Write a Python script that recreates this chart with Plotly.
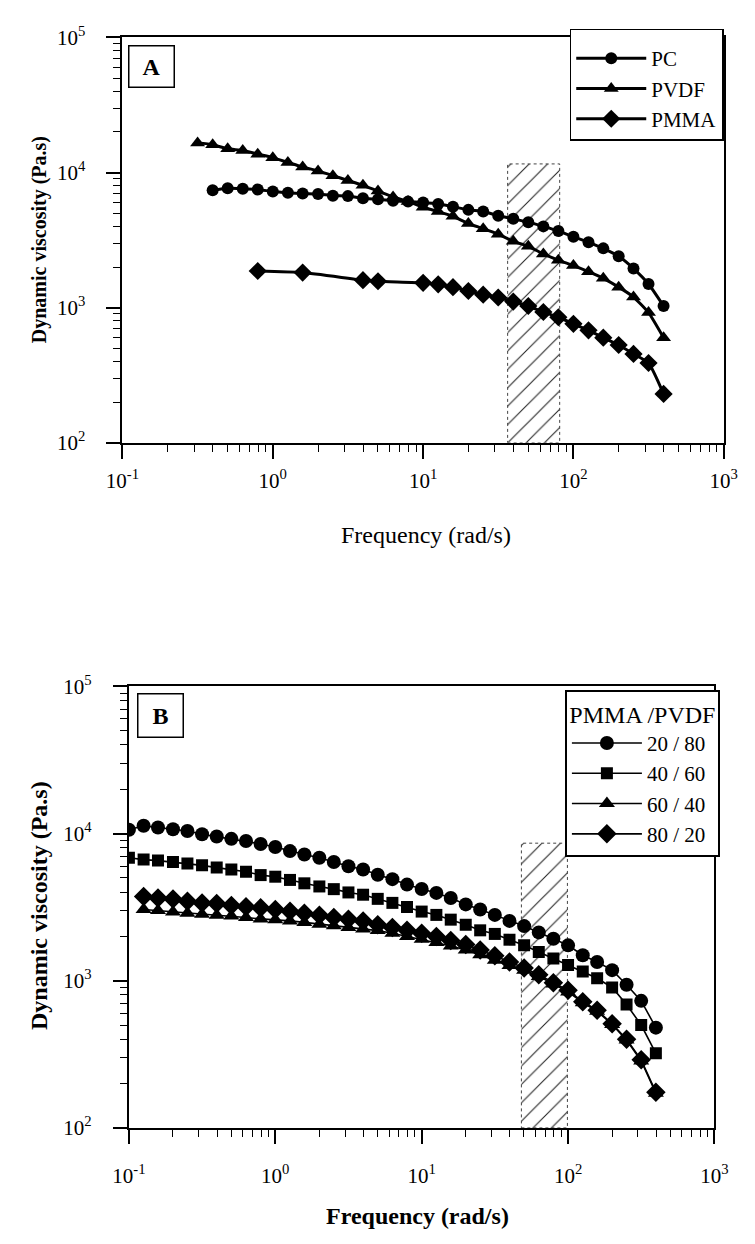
import plotly.graph_objects as go

# ---------------- data ----------------
FREQ_ALL = [0.1, 0.126, 0.158, 0.2, 0.251, 0.316, 0.398, 0.501, 0.631, 0.794,
            1.0, 1.26, 1.58, 2.0, 2.51, 3.16, 3.98, 5.01, 6.31, 7.94,
            10, 12.6, 15.8, 20, 25.1, 31.6, 39.8, 50.1, 63.1, 79.4,
            100, 126, 158, 200, 251, 316, 398]

# Panel A
A_PC_FREQ = FREQ_ALL[6:]
A_PC = [7400, 7650, 7600, 7500, 7250, 7100, 7000, 6950, 6750, 6700,
        6450, 6350, 6200, 6100, 6000, 5850, 5600, 5300, 5150, 4800,
        4550, 4300, 4000, 3700, 3350, 3050, 2750, 2400, 1950, 1500, 1030]
A_PVDF_FREQ = FREQ_ALL[5:]
A_PVDF = [16600, 16100, 15000, 14600, 13700, 12900, 11900, 11000, 10300, 9500,
          8750, 8050, 7300, 6600, 6100, 5550, 5150, 4750, 4200, 3850,
          3500, 3100, 2850, 2500, 2250, 2050, 1850, 1650, 1420, 1200, 920, 600]
A_PMMA_FREQ = [0.794, 1.58, 3.98, 5.01, 10, 12.6, 15.8, 20, 25.1, 31.6, 39.8,
               50.1, 63.1, 79.4, 100, 126, 158, 200, 251, 316, 398]
A_PMMA = [1870, 1820, 1600, 1570, 1530, 1490, 1420, 1330, 1250, 1190, 1110,
          1030, 930, 850, 760, 680, 600, 530, 455, 390, 230]

# Panel B
B_2080_FREQ = FREQ_ALL
B_2080 = [10600, 11300, 11000, 10700, 10400, 9900, 9550, 9200, 8900, 8500, 8100,
          7600, 7200, 6850, 6400, 6000, 5700, 5250, 4900, 4500, 4200,
          3950, 3650, 3300, 3050, 2800, 2550, 2350, 2130, 1930, 1740,
          1490, 1340, 1180, 940, 730, 480]
B_4060_FREQ = FREQ_ALL
B_4060 = [6850, 6650, 6550, 6400, 6250, 6080, 5870, 5700, 5500, 5220, 5090,
          4840, 4590, 4370, 4190, 3980, 3840, 3600, 3380, 3170, 2950,
          2800, 2600, 2400, 2200, 2080, 1900, 1740, 1570, 1415, 1280,
          1155, 1040, 900, 690, 500, 321]
B_6040_FREQ = FREQ_ALL[1:]
B_6040 = [3050, 3000, 2930, 2870, 2830, 2790, 2750, 2690, 2630, 2600,
          2550, 2490, 2420, 2360, 2300, 2250, 2190, 2100, 2000, 1910,
          1820, 1720, 1620, 1500, 1380, 1270, 1180, 1070, 950, 840,
          710, 620, 505, 395, 285, 172]
B_8020_FREQ = FREQ_ALL[1:]
B_8020 = [3740, 3650, 3590, 3470, 3380, 3345, 3250, 3180, 3130, 3050,
          2970, 2870, 2790, 2690, 2620, 2550, 2400, 2300, 2200, 2100,
          2000, 1880, 1760, 1620, 1480, 1340, 1220, 1100, 970, 860,
          720, 630, 510, 400, 290, 175]

# hatched frequency windows
HATCH_A_X = [36.5, 81]
HATCH_A_Y = [100, 11600]
HATCH_B_X = [48, 99]
HATCH_B_Y = [100, 8600]

X_TICKS = [0.1, 1, 10, 100, 1000]
X_TICKTEXT = ["10<sup>-1</sup>", "10<sup>0</sup>", "10<sup>1</sup>", "10<sup>2</sup>", "10<sup>3</sup>"]
Y_TICKS = [100, 1000, 10000, 100000]
Y_TICKTEXT = ["10<sup>2</sup>", "10<sup>3</sup>", "10<sup>4</sup>", "10<sup>5</sup>"]

# ---------------- figure ----------------
W, H = 755, 1244
FONT = "Liberation Serif"


def fx(p):
    return p / W


def fy(p):
    return 1 - p / H


fig = go.Figure()


def hatch(xr, yr, xa, ya):
    fig.add_trace(go.Scatter(
        x=[xr[0], xr[1], xr[1], xr[0], xr[0]],
        y=[yr[0], yr[0], yr[1], yr[1], yr[0]],
        mode="lines", fill="toself", fillcolor="white",
        fillpattern=dict(shape="/", fgcolor="#222", bgcolor="white",
                         size=13, solidity=0.08, fillmode="replace"),
        line=dict(color="#444", width=1, dash="dot"),
        xaxis=xa, yaxis=ya, showlegend=False, hoverinfo="skip"))


hatch(HATCH_A_X, HATCH_A_Y, "x", "y")
hatch(HATCH_B_X, HATCH_B_Y, "x2", "y2")

for name, fr, vals, sym, sz in [("PC", A_PC_FREQ, A_PC, "circle", 12),
                                ("PVDF", A_PVDF_FREQ, A_PVDF, "triangle-up", 13),
                                ("PMMA", A_PMMA_FREQ, A_PMMA, "diamond", 14)]:
    fig.add_trace(go.Scatter(
        x=fr, y=vals, name=name, mode="lines+markers",
        line=dict(color="black", width=3, shape="spline", smoothing=0.5),
        marker=dict(symbol=sym, size=sz, color="black"),
        xaxis="x", yaxis="y", legend="legend"))

for name, fr, vals, sym, sz in [("20 / 80", B_2080_FREQ, B_2080, "circle", 14),
                                ("40 / 60", B_4060_FREQ, B_4060, "square", 12),
                                ("60 / 40", B_6040_FREQ, B_6040, "triangle-up", 14),
                                ("80 / 20", B_8020_FREQ, B_8020, "diamond", 15)]:
    fig.add_trace(go.Scatter(
        x=fr, y=vals, name=name, mode="lines+markers",
        line=dict(color="black", width=1.6),
        marker=dict(symbol=sym, size=sz, color="black"),
        xaxis="x2", yaxis="y2", legend="legend2"))

minor_x = [m * 10.0 ** k for k in range(-1, 3) for m in range(2, 10)]
minor_y = [m * 10.0 ** k for k in range(2, 5) for m in range(2, 10)]

axis_common = dict(type="log", showline=True, linecolor="black", linewidth=2,
                   mirror=True, showgrid=False, zeroline=False,
                   ticks="outside", ticklen=14, tickwidth=1.5, tickcolor="black",
                   tickfont=dict(family=FONT, size=21, color="black"))
minor_common = dict(ticks="outside", ticklen=7, tickwidth=1, tickcolor="black",
                    tickmode="array", showgrid=False)

xa = dict(axis_common, range=[-1, 3], tickmode="array", tickvals=X_TICKS, ticktext=X_TICKTEXT,
          minor=dict(minor_common, tickvals=minor_x))
ya = dict(axis_common, range=[2, 5], tickmode="array", tickvals=Y_TICKS, ticktext=Y_TICKTEXT,
          minor=dict(minor_common, tickvals=minor_y), ticklabelstandoff=17)

fig.update_layout(
    width=W, height=H, margin=dict(l=0, r=0, t=0, b=0),
    paper_bgcolor="white", plot_bgcolor="white",
    font=dict(family=FONT, color="black"),
    xaxis=dict(xa, domain=[fx(110), fx(737)], anchor="y", ticklabelstandoff=4),
    yaxis=dict(ya, domain=[fy(438), fy(24)], anchor="x"),
    xaxis2=dict(xa, domain=[fx(116.7), fx(727.3)], anchor="y2", ticklabelstandoff=14),
    yaxis2=dict(ya, domain=[fy(1137.7), fy(686.7)], anchor="x2"),
    legend=dict(x=fx(737), y=fy(15), xanchor="right", yanchor="top",
                bgcolor="white", bordercolor="black", borderwidth=1.5,
                font=dict(family=FONT, size=21, color="black"),
                title=dict(text="&nbsp;", font=dict(size=6)),
                tracegroupgap=0, itemwidth=70),
    legend2=dict(x=fx(733), y=fy(690), xanchor="right", yanchor="top",
                 bgcolor="white", bordercolor="black", borderwidth=2,
                 font=dict(family=FONT, size=21, color="black"),
                 title=dict(text="PMMA /PVDF", side="top center",
                            font=dict(family=FONT, size=24, color="black")),
                 tracegroupgap=0, itemwidth=70),
    showlegend=True,
)

annots = [
    dict(text="<b>A</b>", x=fx(140.5), y=fy(53.5), width=44, height=40),
    dict(text="<b>B</b>", x=fx(149.3), y=fy(716), width=44, height=42),
]
for a in annots:
    fig.add_annotation(xref="paper", yref="paper", showarrow=False,
                       xanchor="center", yanchor="middle",
                       bordercolor="black", borderwidth=1.5, borderpad=0,
                       bgcolor="white",
                       font=dict(family=FONT, size=24, color="black"), **a)

titles = [
    dict(text="Frequency (rad/s)", x=fx(426), y=fy(532), textangle=0, size=24),
    dict(text="<b>Dynamic viscosity (Pa.s)</b>", x=fx(23), y=fy(231), textangle=-90, size=20),
    dict(text="<b>Frequency (rad/s)</b>", x=fx(418), y=fy(1228), textangle=0, size=24),
    dict(text="<b>Dynamic viscosity (Pa.s)</b>", x=fx(23), y=fy(911), textangle=-90, size=24),
]
for t in titles:
    fig.add_annotation(xref="paper", yref="paper", showarrow=False,
                       xanchor="center", yanchor="middle",
                       text=t["text"], x=t["x"], y=t["y"], textangle=t["textangle"],
                       font=dict(family=FONT, size=t["size"], color="black"))

fig.write_html("out.html")
